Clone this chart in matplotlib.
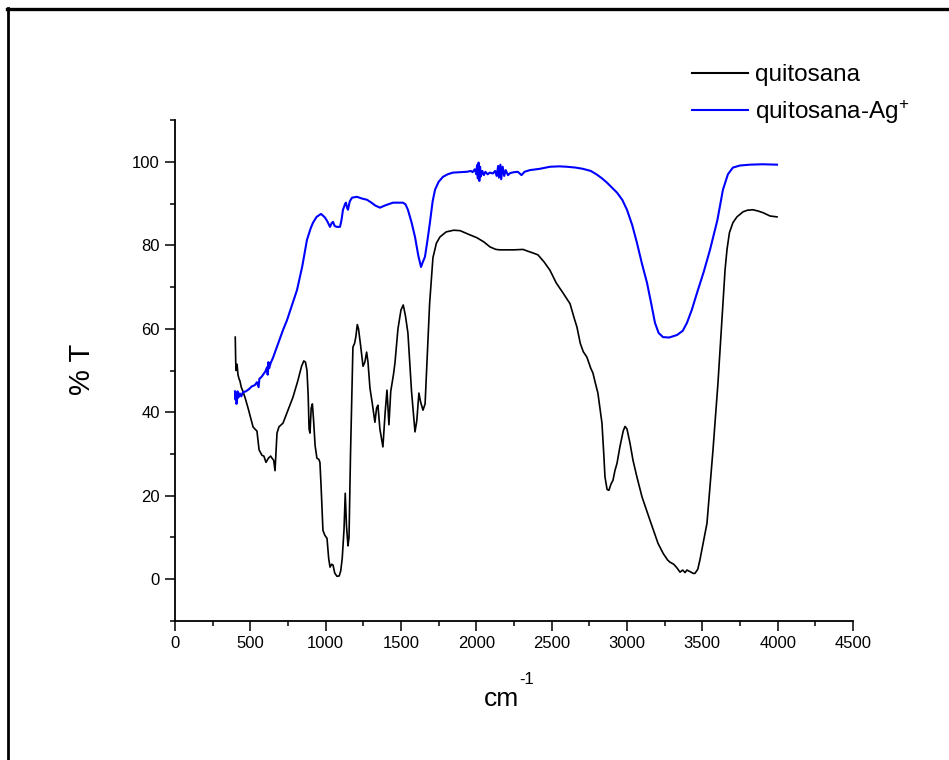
import numpy as np
import matplotlib
matplotlib.use("Agg")
import matplotlib.pyplot as plt
from matplotlib.lines import Line2D
from matplotlib.ticker import MultipleLocator

plt.rcParams['font.family'] = ['Liberation Sans', 'DejaVu Sans']
plt.rcParams['mathtext.fontset'] = 'custom'
plt.rcParams['mathtext.rm'] = 'Liberation Sans'
plt.rcParams['mathtext.default'] = 'regular'

# FTIR spectrum of chitosan (wavenumber cm-1, %T)
quitosana_x = [400, 403, 406, 412, 418, 425, 431, 440, 451, 465, 485, 500, 518, 530, 544, 552, 558,
               577, 590, 604, 620, 635, 644, 655, 664, 670, 677, 690, 717, 750, 783, 815, 840, 855,
               866, 876, 884, 890, 896, 904, 912, 920, 930, 942, 955, 962, 970, 982, 995, 1009, 1020,
               1029, 1040, 1049, 1060, 1075, 1090, 1100, 1110, 1122, 1130, 1138, 1148, 1155, 1165,
               1181, 1192, 1200, 1210, 1218, 1232, 1248, 1260, 1272, 1281, 1294, 1310, 1327, 1338,
               1347, 1360, 1380, 1395, 1407, 1420, 1432, 1450, 1460, 1480, 1500, 1515, 1530, 1546,
               1570, 1593, 1605, 1619, 1630, 1646, 1660, 1672, 1690, 1712, 1735, 1759, 1800, 1850,
               1892, 1950, 2004, 2050, 2091, 2130, 2157, 2250, 2310, 2340, 2380, 2409, 2450, 2489,
               2530, 2575, 2622, 2650, 2668, 2690, 2710, 2734, 2760, 2774, 2790, 2807, 2834, 2846,
               2854, 2868, 2880, 2894, 2907, 2920, 2934, 2953, 2975, 2987, 3000, 3020, 3040, 3066,
               3100, 3153, 3206, 3240, 3270, 3285, 3310, 3330, 3352, 3370, 3385, 3398, 3420, 3440,
               3451, 3470, 3484, 3531, 3571, 3604, 3631, 3651, 3664, 3680, 3703, 3730, 3770, 3800,
               3836, 3870, 3903, 3950, 3996]
quitosana_t = [58, 52, 50, 51.5, 49, 48, 47.5, 46, 45, 43.5, 41, 39, 36.5, 36, 35.5, 33, 31,
               29.7, 29.5, 28, 29, 29.5, 29, 28.5, 26, 30, 35, 36.5, 37.4, 40.5, 43.6, 47.5, 51, 52.3,
               52, 50, 44, 36, 35, 41, 42, 38, 32, 29, 28.7, 28, 22, 11.7, 10.5, 9.8, 5,
               2.9, 3.6, 3.4, 1.5, 0.7, 0.8, 2, 5, 12, 20.6, 13, 8, 10, 30,
               55.6, 56.5, 58, 61, 60, 56, 51, 52, 54.4, 52, 45.8, 42, 37.6, 41,
               41.7, 36, 31.7, 40, 45.3, 37, 45, 49, 51.8, 60, 64.5, 65.7, 63, 59,
               45, 35.3, 38, 44.6, 42.5, 40.5, 42, 51.8, 66, 77, 80.5, 82, 83.2, 83.6,
               83.5, 82.6, 81.8, 80.8, 79.6, 79, 78.9, 78.9, 79, 78.6, 78.1, 77.7, 76, 74,
               71, 68.6, 66, 62.5, 60.4, 56.5, 54.5, 53.2, 50.5, 49.4, 47, 44.6, 37.4, 30,
               24.5, 21.5, 21.3, 22.8, 23.7, 26, 27.8, 31.7, 35.5, 36.6, 36, 32.6, 28.5, 24.5,
               19.7, 14.1, 8.6, 6.2, 4.6, 4.1, 3.6, 2.8, 1.7, 2.2, 1.6, 2.2, 1.8, 1.4,
               1.4, 2.4, 4.6, 13.4, 31, 47, 62.8, 74.1, 79, 83, 85.4, 86.8, 88, 88.4,
               88.5, 88.2, 87.8, 87, 86.8]

# FTIR spectrum of chitosan loaded with Ag+
quitosana_ag_x = [398, 402, 405, 408, 411, 415, 420, 430, 440, 451, 470, 490, 510, 530, 544, 555,
                  560, 575, 600, 611, 615, 620, 625, 635, 650, 680, 717, 743, 780, 810, 845, 876,
                  900, 916, 940, 969, 985, 996, 1010, 1029, 1040, 1049, 1060, 1075, 1095, 1105,
                  1115, 1130, 1135, 1142, 1148, 1160, 1175, 1208, 1240, 1274, 1300, 1330, 1361,
                  1385, 1407, 1447, 1480, 1513, 1530, 1546, 1570, 1593, 1615, 1633, 1645, 1659,
                  1675, 1692, 1710, 1726, 1750, 1779, 1810, 1845, 1890, 1938, 1965, 1975, 1990,
                  2000, 2005, 2010, 2015, 2020, 2025, 2030, 2040, 2050, 2060, 2075, 2090, 2110,
                  2125, 2135, 2145, 2150, 2160, 2165, 2175, 2185, 2195, 2210, 2225, 2250, 2275,
                  2300, 2320, 2356, 2420, 2489, 2550, 2602, 2660, 2708, 2760, 2801, 2835, 2867,
                  2900, 2934, 2970, 3000, 3035, 3066, 3100, 3133, 3160, 3186, 3210, 3239, 3280,
                  3332, 3370, 3398, 3430, 3465, 3510, 3551, 3600, 3637, 3670, 3703, 3750, 3816,
                  3900, 3996]
quitosana_ag_t = [45, 43, 44.5, 42, 42.5, 45, 43.5, 44.5, 43.8, 44.8, 45, 45.5, 46.2, 46.5, 47.2, 46,
                  48, 48.5, 49.8, 50.8, 49, 52, 50.5, 51.8, 53, 56, 59.7, 62, 66, 69.3, 75, 81.3,
                  84, 85.4, 86.8, 87.5, 87, 86.6, 85.8, 84.4, 85.3, 85.6, 84.6, 84.4, 84.4, 86,
                  88.5, 90, 90.2, 89, 88.5, 90.5, 91.4, 91.6, 91.2, 90.9, 90.3, 89.5, 89,
                  89.4, 89.7, 90.2, 90.2, 90.2, 89.8, 88.5, 85.5, 82, 77.5, 74.8, 76, 77.2,
                  81, 85.4, 90.5, 93.3, 95.2, 96.4, 97, 97.4, 97.5, 97.6, 97.8, 97.5, 98.2,
                  97.0, 99.2, 96.0, 99.8, 95.4, 98.8, 96.5, 97.8, 96.8, 97.6, 97.0, 97.4, 97.2,
                  97.8, 96.6, 99.0, 96.2, 99.3, 95.8, 98.8, 96.6, 98.0, 96.8, 97.3, 97.5, 97.6,
                  96.8, 97.6, 98, 98.3, 98.8, 98.9, 98.8, 98.6, 98.3, 97.8, 96.9, 96, 95,
                  93.8, 92.6, 90.8, 88.5, 84.8, 80.6, 75.5, 71, 66.2, 61.4, 59, 58, 57.9,
                  58.5, 59.5, 61.4, 64.5, 68.6, 73.7, 78.9, 86, 93.3, 97, 98.6, 99.1, 99.3,
                  99.4, 99.3]

series_labels = ['quitosana', 'quitosana-Ag$^{+}$']
series_colors = ['black', '#0000ff']

fig = plt.figure(figsize=(9.49, 7.60), dpi=100)
ax = fig.add_axes([0.1844, 0.1829, 0.7144, 0.6592])

ax.plot(quitosana_x, quitosana_t, color=series_colors[0], lw=1.2, label=series_labels[0])
ax.plot(quitosana_ag_x, quitosana_ag_t, color=series_colors[1], lw=1.5, label=series_labels[1])

ax.set_xlim(0, 4500)
ax.set_ylim(-10, 110)
ax.xaxis.set_major_locator(MultipleLocator(500))
ax.xaxis.set_minor_locator(MultipleLocator(250))
ax.yaxis.set_major_locator(MultipleLocator(20))
ax.yaxis.set_minor_locator(MultipleLocator(10))
ax.set_yticks([0, 20, 40, 60, 80, 100])

for s in ['top', 'right']:
    ax.spines[s].set_visible(False)
for s in ['left', 'bottom']:
    ax.spines[s].set_linewidth(1.3)

ax.tick_params(which='major', direction='out', length=7, width=1.1, labelsize=12, pad=4)
ax.tick_params(which='minor', direction='out', length=3.5, width=1.1)

# axis titles
fig.text(82 / 949, 1 - 369 / 760, '% T', fontsize=21, rotation=90, ha='center', va='center')
fig.text(519 / 949, 1 - 706 / 760, 'cm', fontsize=19, ha='right', va='baseline')
fig.text(519.5 / 949, 1 - 684 / 760, '-1', fontsize=12, ha='left', va='baseline')

leg = ax.legend(loc='upper left', bbox_to_anchor=(692 / 949, 1 - 64 / 760), bbox_transform=fig.transFigure,
                frameon=False, fontsize=17.5, handlelength=2.3, handletextpad=0.3,
                labelspacing=0.48, borderpad=0, borderaxespad=0)
for h in leg.get_lines():
    h.set_linewidth(1.5)

# outer frame lines
fig.add_artist(Line2D([7 / 949, 1.0], [1 - 9 / 760, 1 - 9 / 760], transform=fig.transFigure,
                      color='black', lw=2.4))
fig.add_artist(Line2D([8 / 949, 8 / 949], [0.0, 1 - 8 / 760], transform=fig.transFigure,
                      color='black', lw=2.0))

fig.savefig('out.png', dpi=100)
